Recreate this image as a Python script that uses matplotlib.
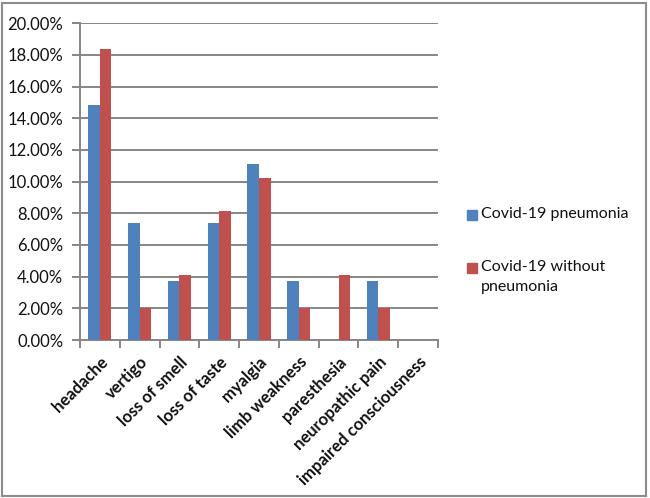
import matplotlib.pyplot as plt
import numpy as np
from matplotlib.patches import Rectangle
from matplotlib.ticker import FuncFormatter

plt.rcParams['font.family'] = ['Lato', 'DejaVu Sans']

symptoms = ['headache', 'vertigo', 'loss of smell', 'loss of taste', 'myalgia',
            'limb weakness', 'paresthesia', 'neuropathic pain', 'impaired consciousness']
pneumonia = [14.81, 7.41, 3.70, 7.41, 11.11, 3.70, 0.0, 3.70, 0.0]
no_pneumonia = [18.37, 2.04, 4.08, 8.16, 10.20, 2.04, 4.08, 2.04, 0.0]
series_labels = ['Covid-19 pneumonia', 'Covid-19 without\npneumonia']
colors = ['#4F81BD', '#C0504D']
grid_color = '#868686'

fig = plt.figure(figsize=(6.5, 4.98), dpi=100)
ax = fig.add_axes([80 / 650, 1 - 340 / 498, 358 / 650, 316.7 / 498])

x = np.arange(len(symptoms))
w = 0.29
ax.bar(x - w / 2, pneumonia, w, color=colors[0], zorder=3)
ax.bar(x + w / 2, no_pneumonia, w, color=colors[1], zorder=3)

ax.set_xlim(-0.5, len(symptoms) - 0.5)
ax.set_ylim(0, 20)
ax.set_yticks(np.arange(0, 21, 2))
ax.yaxis.set_major_formatter(FuncFormatter(lambda v, p: f'{v:.2f}%'))
ax.grid(axis='y', color=grid_color, linewidth=1.4, zorder=0)

# tick marks between categories, labels at the centres
ax.set_xticks(np.arange(-0.5, len(symptoms)))
ax.set_xticklabels([])
ax.set_xticks(x, minor=True)
ax.set_xticklabels(symptoms, minor=True, rotation=45, ha='right', rotation_mode='anchor',
                   fontsize=12, fontweight='bold', color='#111111')
ax.tick_params(axis='x', which='minor', length=0, pad=10)
ax.tick_params(axis='x', which='major', length=6, width=1.4, color=grid_color)
ax.tick_params(axis='y', length=6, width=1.4, color=grid_color, labelsize=12, pad=6,
               labelcolor='#111111')

for s in ['top', 'right']:
    ax.spines[s].set_visible(False)
for s in ['left', 'bottom']:
    ax.spines[s].set_color(grid_color)
    ax.spines[s].set_linewidth(1.4)

# legend, Excel style: square aligned with the first line of each entry
leg_tops = [215, 268]
for label, col, yc in zip(series_labels, colors, leg_tops):
    fig.patches.append(Rectangle((467 / 650, 1 - (yc + 5) / 498), 10 / 650, 10 / 498,
                                 transform=fig.transFigure, color=col))
    fig.text(481 / 650, 1 - (yc - 8) / 498, label, fontsize=11.5, va='top', ha='left',
             linespacing=1.5, color='#111111')

fig.patches.append(Rectangle((0.003, 0.004), 0.991, 0.99, transform=fig.transFigure,
                             fill=False, edgecolor='#8c8c8c', linewidth=1.5))

fig.savefig('out.png', dpi=100)
